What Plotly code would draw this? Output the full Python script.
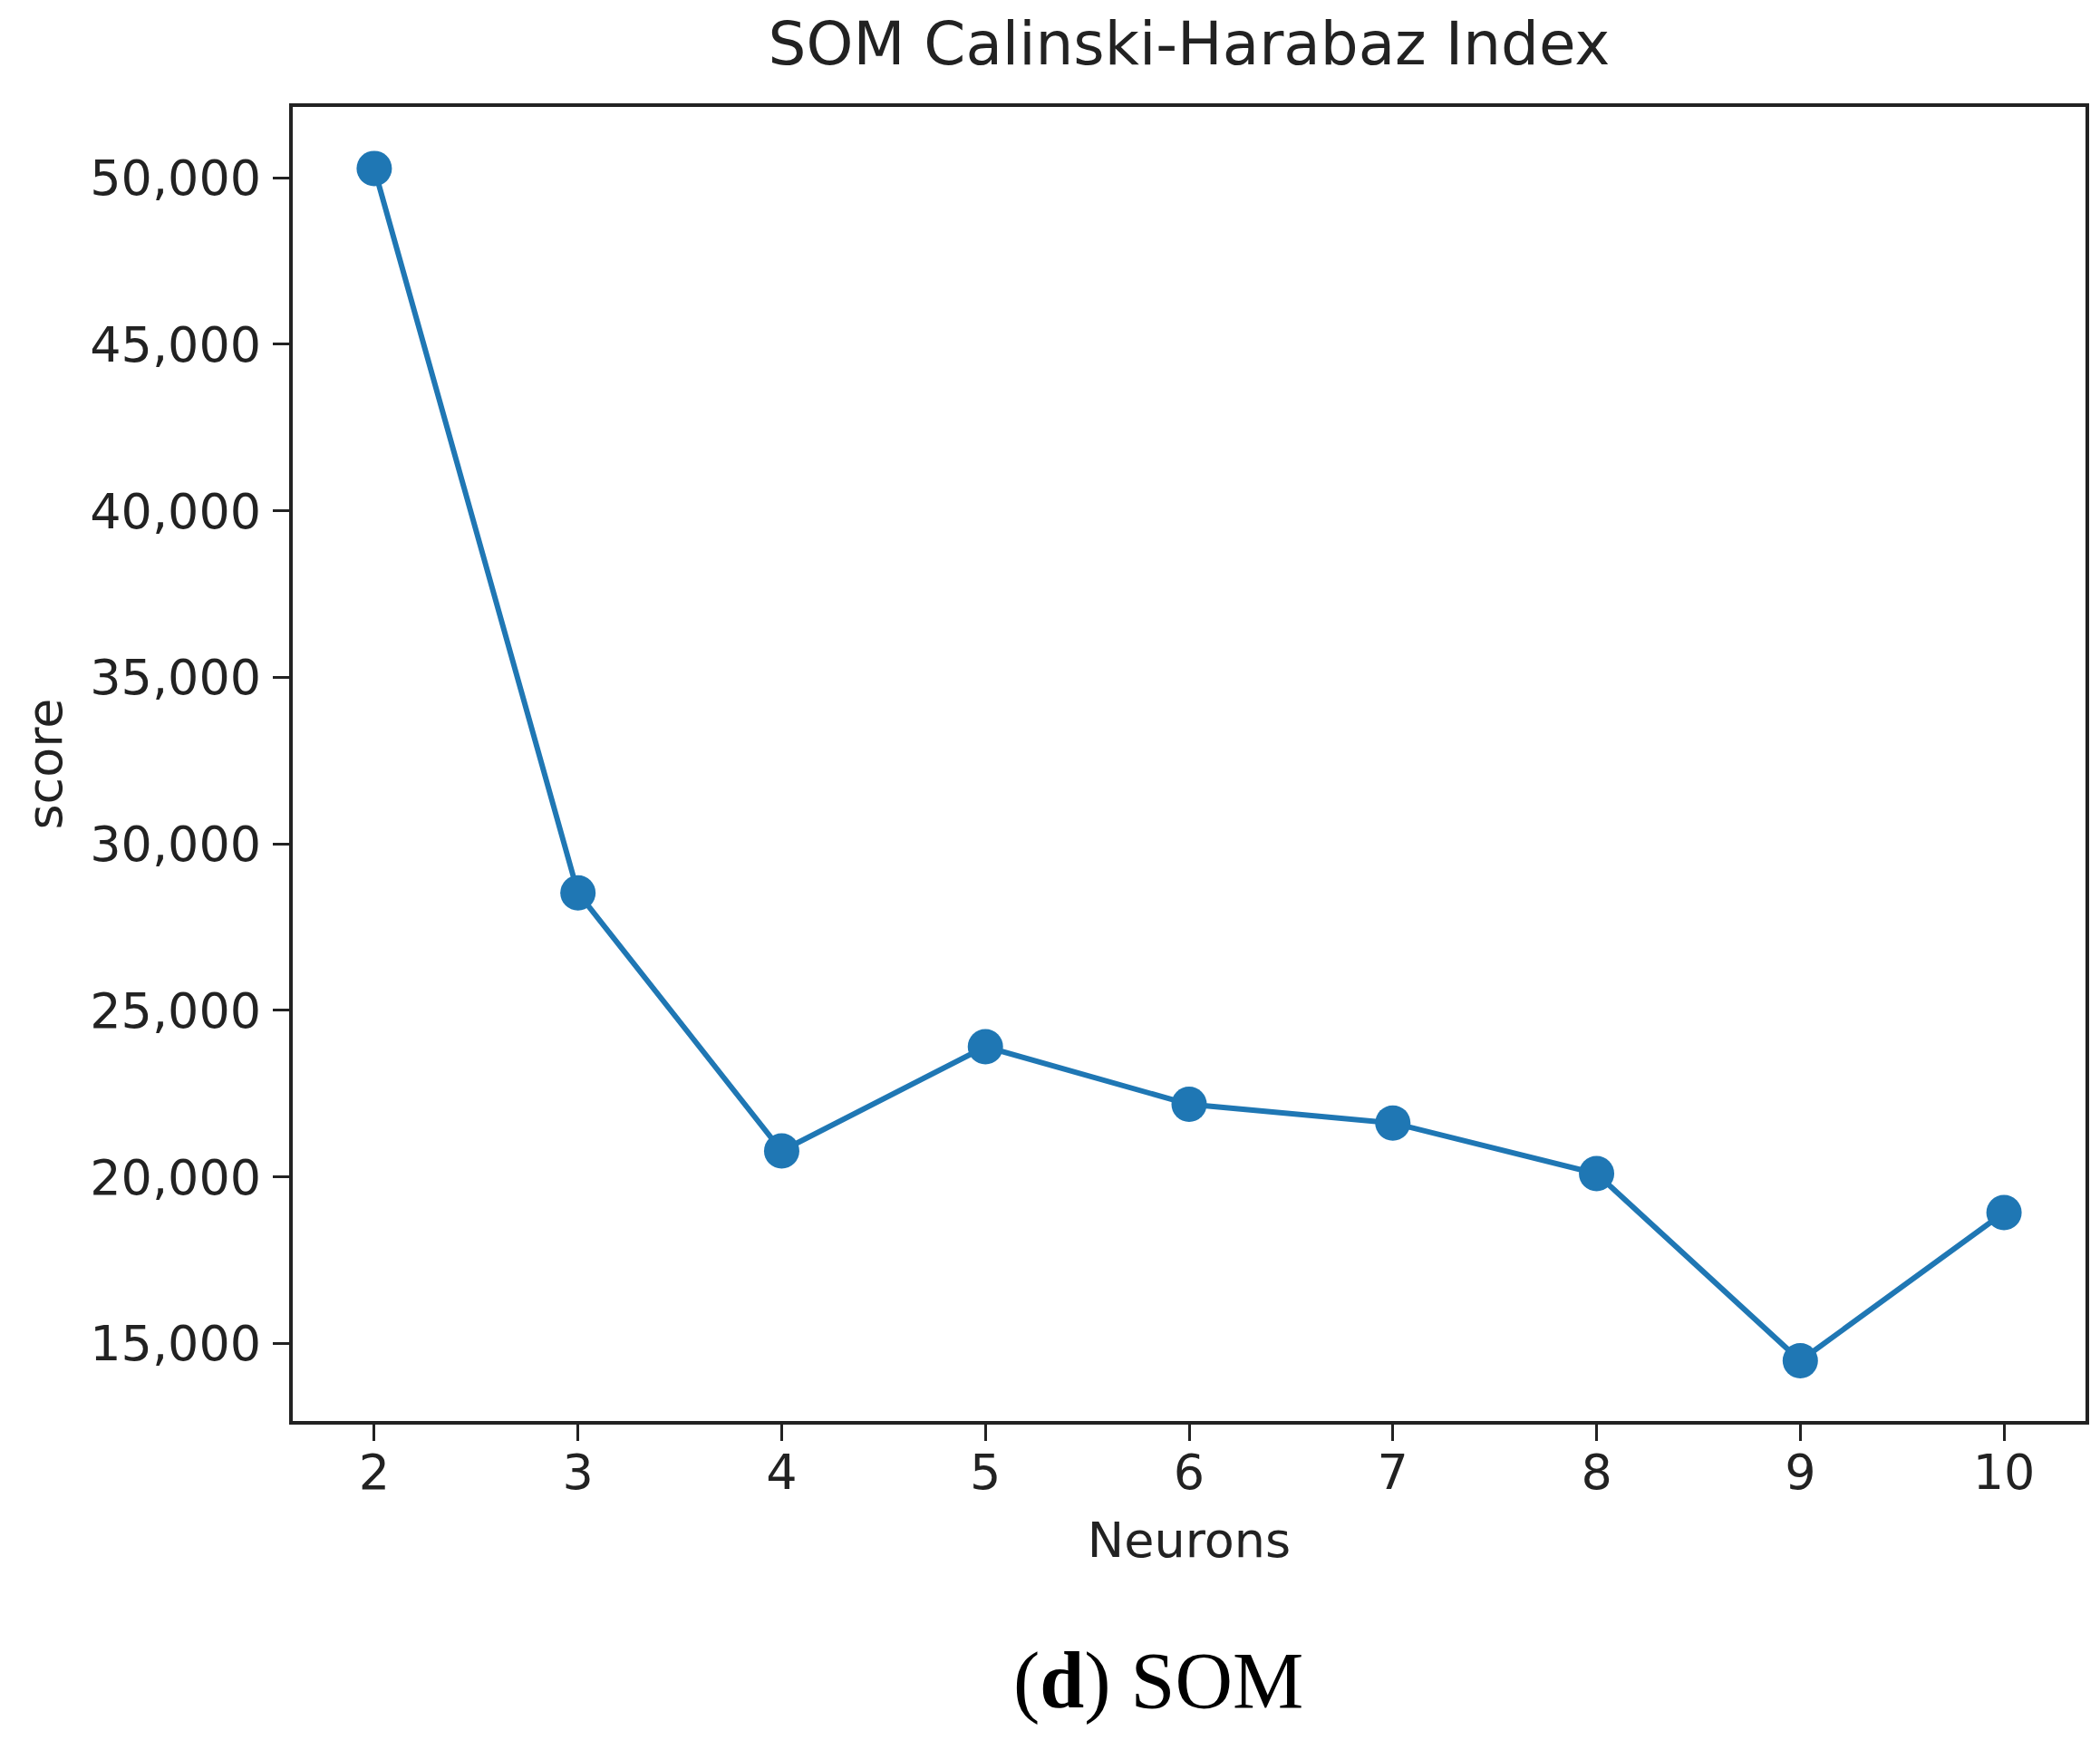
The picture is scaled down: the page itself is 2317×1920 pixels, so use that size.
import plotly.graph_objects as go

# SOM Calinski-Harabaz scores per number of neurons
neurons = [2, 3, 4, 5, 6, 7, 8, 9, 10]
scores = [50280, 28530, 20780, 23910, 22180, 21620, 20100, 14480, 18930]
y_ticks = [15000, 20000, 25000, 30000, 35000, 40000, 45000, 50000]

fig = go.Figure()
fig.add_trace(go.Scatter(x=neurons, y=scores, mode='lines+markers',
                         line=dict(color='#1f77b4', width=6),
                         marker=dict(color='#1f77b4', size=39)))

axis_font = dict(family='DejaVu Sans', size=54, color='#222222')

fig.update_layout(
    width=2317,
    height=1920,
    margin=dict(l=315, r=24, t=110, b=360),
    paper_bgcolor='white',
    plot_bgcolor='white',
    showlegend=False,
    title=dict(text='SOM Calinski-Harabaz Index', x=0.5, xref='paper',
               y=1 - 40 / 1920, yref='container', yanchor='middle',
               font=dict(family='DejaVu Sans', size=66, color='#222222')),
    xaxis=dict(range=[1.6, 10.4], tickvals=neurons, showgrid=False, zeroline=False,
               showline=True, linecolor='#222222', linewidth=4, mirror=True,
               ticks='outside', ticklen=18, tickwidth=3, tickcolor='#222222',
               tickfont=axis_font, ticklabelstandoff=-12,
               title=dict(text='Neurons', font=axis_font, standoff=26)),
    yaxis=dict(range=[12672, 52127], tickvals=y_ticks, tickformat=',d',
               showgrid=False, zeroline=False,
               showline=True, linecolor='#222222', linewidth=4, mirror=True,
               ticks='outside', ticklen=18, tickwidth=3, tickcolor='#222222',
               tickfont=axis_font, ticklabelstandoff=2,
               title=dict(text='score', font=axis_font, standoff=14)),
)

# panel caption under the chart
fig.add_annotation(text='(<b>d</b>) SOM', xref='paper', yref='paper',
                   x=(1270 - 315) / (2293 - 315), y=-(1846 - 1560) / (1560 - 110),
                   xanchor='center', yanchor='middle', showarrow=False,
                   font=dict(family='Liberation Serif', size=88, color='black'))

fig.write_html("out.html")
